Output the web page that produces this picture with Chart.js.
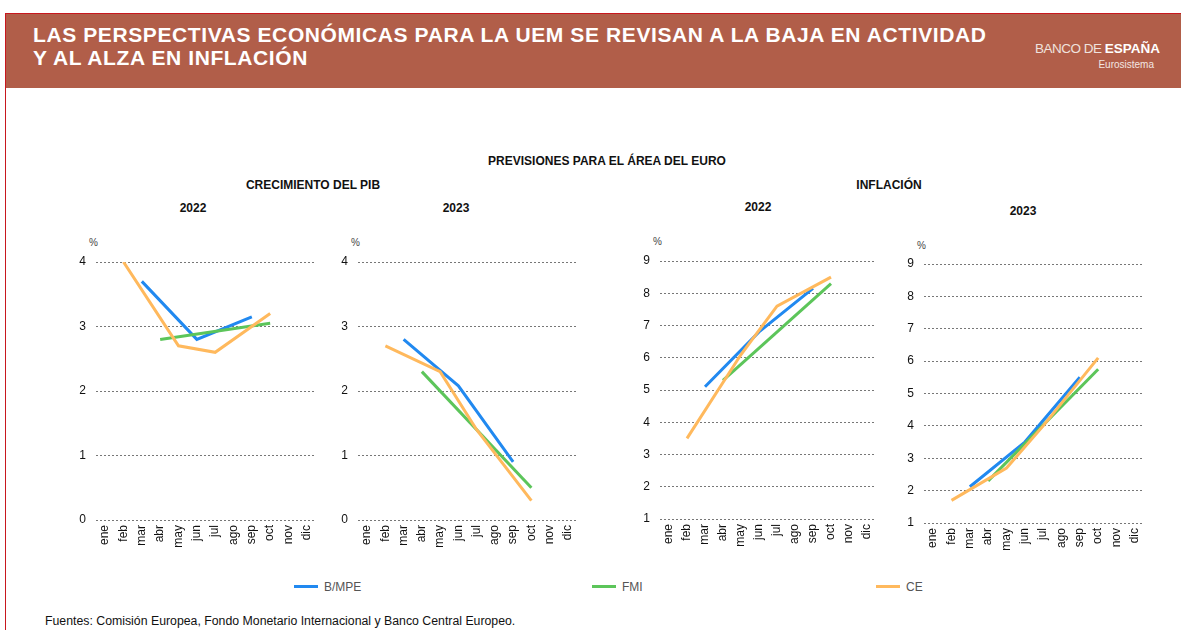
<!DOCTYPE html>
<html lang="es">
<head>
<meta charset="utf-8">
<script src="https://cdn.jsdelivr.net/npm/chart.js@4.4.1/dist/chart.umd.min.js"></script>
<style>
  html, body { margin: 0; padding: 0; background: #fff; }
  body { width: 1181px; height: 630px; position: relative; overflow: hidden; font-family: "Liberation Sans", Arial, sans-serif; }
  #frame { position: absolute; left: 5px; top: 13px; right: -2px; bottom: -2px; border-left: 1.5px solid #c8171e; border-top: 1.5px solid #c8171e; }
  #header { position: absolute; left: 6px; top: 14px; width: 1175px; height: 74px; background: #b15e49; }
  #title { position: absolute; left: 27px; top: 9px; color: #fff; font-weight: bold; font-size: 21px; letter-spacing: 0.6px; line-height: 23px; }
  #logo { position: absolute; left: 1029px; top: 27px; width: 128px; color: #fff; }
  #logo .l1 { font-size: 13.5px; letter-spacing: -0.5px; white-space: nowrap; }
  #logo .l1 span.t { color: #efe2de; }
  #logo .l1 b { font-weight: bold; letter-spacing: 0; }
  #logo .l2 { font-size: 10px; margin-top: 3px; color: #f3e6e2; text-align: right; padding-right: 9px; }
  .txt { position: absolute; font-weight: bold; font-size: 12px; color: #111; white-space: nowrap; transform: translateX(-50%); }
  .pct { position: absolute; font-size: 10px; color: #444; }
  .panel { position: absolute; }
  #legend { position: absolute; top: 580px; left: 0; width: 1181px; height: 16px; font-size: 12px; color: #555; }
  #legend .item { position: absolute; white-space: nowrap; }
  #legend .item i { display: inline-block; width: 24px; height: 3px; vertical-align: middle; margin-right: 6px; position: relative; top: -1px; }
  #source { position: absolute; left: 45px; top: 614px; font-size: 12.3px; color: #111; }
</style>
</head>
<body>
<div id="frame"></div>
<div id="header">
  <div id="title">LAS PERSPECTIVAS ECONÓMICAS PARA LA UEM SE REVISAN A LA BAJA EN ACTIVIDAD<br>Y AL ALZA EN INFLACIÓN</div>
  <div id="logo"><div class="l1"><span class="t">BANCO DE </span><b>ESPAÑA</b></div><div class="l2">Eurosistema</div></div>
</div>

<div class="txt" style="left:607px; top:154px;">PREVISIONES PARA EL ÁREA DEL EURO</div>
<div class="txt" style="left:313px; top:178px;">CRECIMIENTO DEL PIB</div>
<div class="txt" style="left:889px; top:178px;">INFLACIÓN</div>

<div id="panels"></div>
<div id="legend"></div>
<div id="source">Fuentes: Comisión Europea, Fondo Monetario Internacional y Banco Central Europeo.</div>

<script>
// categorias (meses)
const meses = ['ene', 'feb', 'mar', 'abr', 'may', 'jun', 'jul', 'ago', 'sep', 'oct', 'nov', 'dic'];
const seriesNames = ['B/MPE', 'FMI', 'CE'];
const seriesColors = ['#2189f0', '#5cc55a', '#ffb95d'];

// Crecimiento del PIB 2022
const pib22_bmpe = [null, null, 3.7, null, null, 2.8, null, null, 3.15, null, null, null];
const pib22_fmi  = [null, null, null, 2.8, null, null, null, null, null, 3.05, null, null];
const pib22_ce   = [null, 4.0, null, null, 2.7, null, 2.6, null, null, 3.2, null, null];
// Crecimiento del PIB 2023
const pib23_bmpe = [null, null, 2.8, null, null, 2.08, null, null, 0.9, null, null, null];
const pib23_fmi  = [null, null, null, 2.3, null, null, null, null, null, 0.5, null, null];
const pib23_ce   = [null, 2.7, null, null, 2.3, null, 1.4, null, null, 0.3, null, null];
// Inflacion 2022
const inf22_bmpe = [null, null, 5.1, null, null, 6.8, null, null, 8.15, null, null, null];
const inf22_fmi  = [null, null, null, 5.3, null, null, null, null, null, 8.3, null, null];
const inf22_ce   = [null, 3.5, null, null, 6.1, null, 7.6, null, null, 8.5, null, null];
// Inflacion 2023
const inf23_bmpe = [null, null, 2.12, null, null, 3.5, null, null, 5.5, null, null, null];
const inf23_fmi  = [null, null, null, 2.3, null, null, null, null, null, 5.75, null, null];
const inf23_ce   = [null, 1.7, null, null, 2.7, null, 4.0, null, null, 6.1, null, null];

const pibTicks = { min: 0, max: 4, step: 1 };
const infTicks = { min: 1, max: 9, step: 1 };

// paneles: chart area box (left, right, top, bottom)
const panels = [
  { year: '2022', yearX: 193, yearY: 201, pctX: 89, pctY: 237, area: [96, 316, 262, 520], ticks: pibTicks, data: [pib22_bmpe, pib22_fmi, pib22_ce] },
  { year: '2023', yearX: 456, yearY: 201, pctX: 351, pctY: 237, area: [358, 577, 262, 520], ticks: pibTicks, data: [pib23_bmpe, pib23_fmi, pib23_ce] },
  { year: '2022', yearX: 758, yearY: 200, pctX: 653, pctY: 236, area: [660, 876, 261, 519], ticks: infTicks, data: [inf22_bmpe, inf22_fmi, inf22_ce] },
  { year: '2023', yearX: 1023, yearY: 204, pctX: 917, pctY: 240, area: [924, 1144, 264, 523], ticks: infTicks, data: [inf23_bmpe, inf23_fmi, inf23_ce] }
];

const Y_W = 26, X_H = 36, PAD_T = 10, PAD_R = 4;
const host = document.getElementById('panels');

panels.forEach(p => {
  const [l, r, t, b] = p.area;
  const left = l - Y_W, top = t - PAD_T;
  const w = r + PAD_R - left, h = b + X_H - top;

  const yr = document.createElement('div');
  yr.className = 'txt'; yr.style.left = p.yearX + 'px'; yr.style.top = p.yearY + 'px';
  yr.textContent = p.year;
  document.body.appendChild(yr);

  const pc = document.createElement('div');
  pc.className = 'pct'; pc.style.left = p.pctX + 'px'; pc.style.top = p.pctY + 'px';
  pc.textContent = '%';
  document.body.appendChild(pc);

  const box = document.createElement('div');
  box.className = 'panel';
  box.style.cssText = `left:${left}px;top:${top}px;width:${w}px;height:${h}px;`;
  const cv = document.createElement('canvas');
  box.appendChild(cv);
  host.appendChild(box);

  new Chart(cv.getContext('2d'), {
    type: 'line',
    data: {
      labels: meses,
      datasets: seriesNames.map((name, i) => ({
        label: name,
        data: p.data[i],
        borderColor: seriesColors[i],
        backgroundColor: seriesColors[i],
        borderWidth: 3,
        pointRadius: 0,
        tension: 0,
        spanGaps: true,
        order: 3 - i
      }))
    },
    options: {
      responsive: true,
      maintainAspectRatio: false,
      animation: false,
      layout: { padding: { top: PAD_T, right: PAD_R, left: 0, bottom: 0 } },
      plugins: { legend: { display: false }, tooltip: { enabled: false } },
      scales: {
        x: {
          offset: true,
          grid: { display: false, drawTicks: false, offset: true },
          border: { display: false },
          ticks: { minRotation: 90, maxRotation: 90, autoSkip: false, padding: 5, color: '#111', font: { family: 'Liberation Sans', size: 12 } },
          afterFit: s => { s.height = X_H; s.paddingLeft = 0; s.paddingRight = 0; }
        },
        y: {
          min: p.ticks.min, max: p.ticks.max,
          grid: { color: '#777', lineWidth: 1, drawTicks: false },
          border: { display: false, dash: [2, 2] },
          ticks: { stepSize: p.ticks.step, padding: 10, color: '#111', font: { family: 'Liberation Sans', size: 12 } },
          afterFit: s => { s.width = Y_W; s.paddingTop = 0; s.paddingBottom = 0; }
        }
      }
    }
  });
});

// leyenda
const legendX = [294, 592, 876];
const lg = document.getElementById('legend');
seriesNames.forEach((name, i) => {
  const it = document.createElement('div');
  it.className = 'item';
  it.style.left = legendX[i] + 'px';
  it.innerHTML = `<i style="background:${seriesColors[i]}"></i>${name}`;
  lg.appendChild(it);
});
</script>
</body>
</html>
